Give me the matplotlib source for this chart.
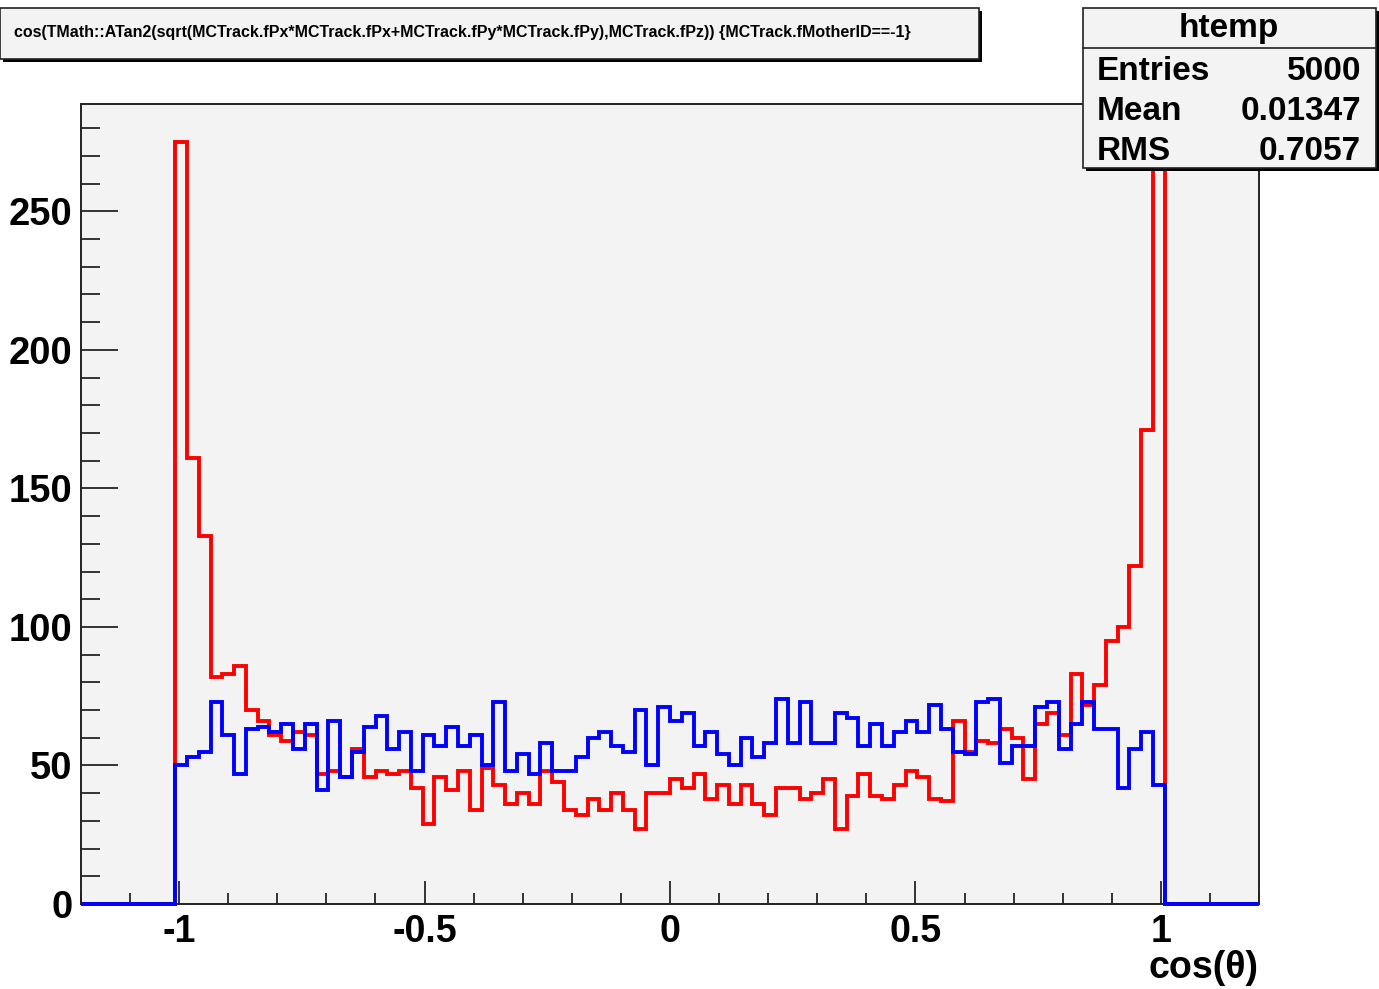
import numpy as np
import matplotlib
matplotlib.use("Agg")
import matplotlib.pyplot as plt
from matplotlib.patches import Rectangle
from matplotlib.ticker import MultipleLocator

plt.rcParams['font.family'] = ['Liberation Sans', 'DejaVu Sans']
plt.rcParams['font.weight'] = 'bold'

# histogram binning: 100 bins on [-1.2, 1.2], filled bins are 8..91
x_lo, x_hi, n_bins = -1.2, 1.2, 100
first_bin = 8

# red: all primaries (htemp)
red_counts = [275, 161, 133, 82, 83, 86, 70, 66, 61, 59, 62, 61,
              47, 48, 46, 56, 46, 48, 47, 48,
              42, 29, 46, 41, 48, 34, 49, 43, 36, 40,
              36, 48, 44, 34, 32, 38, 34, 40, 34, 27,
              40, 40, 45, 42, 47, 38, 43, 36, 43, 36,
              32, 42, 42, 38, 40, 45, 27, 39, 47, 39,
              38, 43, 48, 46, 38, 37, 66, 55, 59, 58,
              63, 60, 45, 65, 69, 61, 83, 72, 79, 95, 100, 122, 171, 270]
# blue: second selection
blue_counts = [50, 53, 55, 73, 61, 47, 63, 64, 62, 65, 56, 65,
               41, 66, 46, 55, 64, 68, 56, 62,
               48, 61, 57, 64, 57, 61, 50, 73, 48, 54,
               47, 58, 48, 48, 53, 60, 62, 57, 55, 70,
               50, 71, 66, 69, 57, 62, 54, 50, 60, 53,
               58, 74, 58, 73, 58, 58, 69, 67, 57, 65,
               57, 62, 66, 62, 72, 63, 55, 54, 73, 74,
               51, 57, 57, 71, 73, 56, 65, 73, 63, 63, 42, 56, 62, 43]

title_text = ("cos(TMath::ATan2(sqrt(MCTrack.fPx*MCTrack.fPx+MCTrack.fPy*MCTrack.fPy),"
              "MCTrack.fPz)) {MCTrack.fMotherID==-1}")
stat_name = "htemp"
stat_labels = ["Entries", "Mean", "RMS"]
stat_values = ["5000", "0.01347", "0.7057"]
x_major = [-1, -0.5, 0, 0.5, 1]
x_major_labels = ["-1", "-0.5", "0", "0.5", "1"]


def pad_hist(counts):
    h = np.zeros(n_bins)
    h[first_bin:first_bin + len(counts)] = counts
    return h


W, H = 1379, 989
fig = plt.figure(figsize=(W / 100, H / 100), dpi=100)
fig.patch.set_facecolor('white')

def fx(px):
    return px / W

def fy(py):
    return 1 - py / H

# frame
ax = fig.add_axes([fx(81), fy(904), fx(1259) - fx(81), fy(104) - fy(904)])
ax.set_facecolor('#f3f3f3')
edges = np.linspace(x_lo, x_hi, n_bins + 1)
ax.stairs(pad_hist(red_counts), edges, color='#ff0000', lw=2.8, baseline=None,
          zorder=3, clip_on=False)
ax.stairs(pad_hist(blue_counts), edges, color='#0000ff', lw=2.8, baseline=None,
          zorder=4, clip_on=False)
ax.set_xlim(x_lo, x_hi)
ax.set_ylim(0, max(red_counts) * 1.05)

for s in ax.spines.values():
    s.set_linewidth(1.4)
    s.set_color('#222222')

ax.set_xticks(x_major)
ax.set_xticklabels(x_major_labels)
ax.xaxis.set_minor_locator(MultipleLocator(0.1))
ax.yaxis.set_major_locator(MultipleLocator(50))
ax.yaxis.set_minor_locator(MultipleLocator(10))
ax.tick_params(axis='x', which='major', direction='in', length=16.5, width=1.1,
               labelsize=27, pad=7, top=False)
ax.tick_params(axis='x', which='minor', direction='in', length=8, width=1.1, top=False)
ax.tick_params(axis='y', which='major', direction='in', length=26.5, width=1.1,
               labelsize=27.5, pad=6, right=False)
ax.tick_params(axis='y', which='minor', direction='in', length=13.5, width=1.1, right=False)
for lab in ax.get_xticklabels() + ax.get_yticklabels():
    lab.set_fontweight('bold')

fig.text(fx(1258), fy(968), "cos(\u03b8)", ha='right', va='center', fontsize=27,
         fontweight='bold')

# title box with shadow
fig.patches.append(Rectangle((fx(3), fy(62)), fx(979) - fx(0), fy(8) - fy(59),
                             transform=fig.transFigure, facecolor='black',
                             edgecolor='none', zorder=5))
fig.patches.append(Rectangle((fx(0), fy(59)), fx(979) - fx(0), fy(8) - fy(59),
                             transform=fig.transFigure, facecolor='#f3f3f3',
                             edgecolor='#222222', lw=1.2, zorder=6))
fig.text(fx(14), fy(33), title_text, ha='left', va='center', fontsize=11.5,
         fontweight='bold', zorder=7)

# stats box with shadow
fig.patches.append(Rectangle((fx(1086), fy(171)), fx(1376) - fx(1083), fy(8) - fy(168),
                             transform=fig.transFigure, facecolor='black',
                             edgecolor='none', zorder=5))
fig.patches.append(Rectangle((fx(1083), fy(168)), fx(1376) - fx(1083), fy(8) - fy(168),
                             transform=fig.transFigure, facecolor='#f3f3f3',
                             edgecolor='#222222', lw=1.2, zorder=6))
fig.add_artist(plt.Line2D([fx(1083), fx(1376)], [fy(48), fy(48)],
                          transform=fig.transFigure, color='#222222', lw=1.2,
                          zorder=7))
fig.text(fx(1229), fy(28), stat_name, ha='center', va='center', fontsize=24,
         fontweight='bold', zorder=8)
for i, (lab, val) in enumerate(zip(stat_labels, stat_values)):
    yy = fy(72 + 40 * i)
    fig.text(fx(1097), yy, lab, ha='left', va='center', fontsize=24,
             fontweight='bold', zorder=8)
    fig.text(fx(1361), yy, val, ha='right', va='center', fontsize=24,
             fontweight='bold', zorder=8)

fig.savefig("out.png", dpi=100)
